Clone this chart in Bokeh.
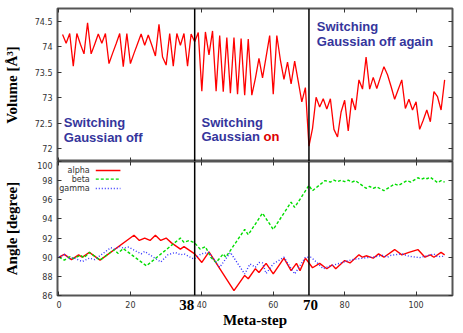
import math
from bokeh.plotting import figure
from bokeh.layouts import column
from bokeh.models import (Range1d, LinearAxis, Span, Label, Arrow, FixedTicker,
                          CustomJSTickFormatter)
from bokeh.embed import file_html
from bokeh.resources import INLINE

# ---------------- data ----------------
vol_step = list(range(1, 109))
volume = [
    74.24, 74.07, 74.26, 73.62, 74.26, 74.05, 73.86, 74.47, 73.86, 74.05,
    74.25, 74.07, 74.26, 73.67, 73.87, 74.06, 74.26, 73.61, 74.26, 73.67,
    73.87, 74.06, 74.25, 74.03, 74.23, 74.03, 73.82, 74.44, 73.80, 73.64,
    74.26, 73.62, 74.26, 74.03, 74.26, 73.62, 74.25, 74.10, 74.28, 73.13,
    74.29, 73.84, 74.31, 73.13, 74.22, 73.12, 74.18, 73.09, 74.18, 73.07,
    74.16, 73.05, 74.15, 73.05, 73.38, 73.77, 73.39, 73.80, 74.22, 73.07,
    74.22, 73.74, 73.36, 73.70, 73.27, 73.72, 73.32, 72.92, 73.20, 72.05,
    72.40, 73.01, 72.82, 72.98, 72.78, 72.98, 72.38, 72.23, 72.72, 72.95,
    72.35, 72.99, 72.76, 73.35, 73.17, 73.80, 73.17, 73.40, 73.18, 73.40,
    73.61, 73.45, 73.22, 72.97, 73.16, 73.35, 72.79, 72.97, 72.76, 72.92,
    72.38, 72.56, 72.76, 72.53, 73.12, 73.02, 72.76, 73.35,
]

alpha_step = [0, 1.5, 3.5, 5.5, 6.5, 8.5, 11.5, 21, 22.5, 24, 25.5, 27, 28.5, 30,
              31.5, 34, 35, 38, 40, 42, 49, 52, 53, 55, 56, 58, 60, 63, 65, 66.5,
              67.5, 69, 71, 73, 75, 76.5, 77.5, 80, 81.5, 84, 85, 86, 88, 89.5,
              91, 94, 96, 98, 100.5, 102.5, 104, 105, 107, 108]
alpha_deg = [90.0, 90.3, 89.75, 90.25, 90.0, 90.5, 89.7, 92.3, 91.75, 92.0, 91.75,
             92.3, 91.75, 92.0, 91.5, 90.85, 91.1, 90.35, 89.45, 90.55, 86.5, 88.1,
             87.75, 88.8, 88.4, 89.35, 88.25, 89.9, 88.6, 89.35, 88.6, 89.9, 88.9,
             89.35, 88.8, 89.2, 88.8, 89.65, 89.4, 90.25, 90.0, 90.15, 89.9, 90.35,
             90.0, 90.8, 90.25, 90.5, 90.8, 90.0, 90.25, 90.0, 90.5, 90.25]

beta_step = [0, 1.5, 3, 4, 6, 7, 8.5, 11.5, 15.5, 16.5, 18, 24.5, 34, 35, 36.5, 38,
             39.5, 41, 42.5, 44, 46, 46.7, 52, 53, 57, 60, 65, 66, 70, 71, 74.5,
             76, 77, 78, 79, 80, 81, 82, 83, 86, 87, 88, 89, 91, 94, 95, 97.5,
             98.5, 100.5, 101.5, 102.5, 103, 104, 106, 107, 108]
beta_deg = [90.0, 89.7, 90.05, 89.85, 90.2, 89.95, 90.5, 89.7, 90.8, 90.4, 90.9,
            89.1, 92.0, 91.55, 91.75, 91.5, 90.85, 91.1, 90.0, 89.45, 90.35, 90.0,
            92.9, 92.35, 94.6, 92.9, 95.75, 95.2, 97.5, 96.95, 98.0, 97.85, 98.05,
            97.9, 98.05, 97.9, 98.05, 97.85, 98.0, 97.2, 97.4, 97.2, 97.35, 96.95,
            97.65, 97.5, 98.0, 97.85, 98.3, 98.15, 98.3, 98.2, 98.35, 97.8, 98.0,
            97.85]

gamma_step = [0, 1.5, 3, 4, 6.5, 8.5, 10, 14.5, 15.5, 17, 18, 19.5, 23, 24, 28.5,
              30.5, 32.5, 34, 35, 37.8, 39.8, 42, 45, 48, 52, 53.5, 55, 56, 57, 58,
              60, 63, 66, 69, 70.5, 71.5, 74, 76, 78, 81, 83, 86, 88, 90.5, 92, 93,
              96, 98, 101, 103, 105, 106, 108]
gamma_deg = [90.0, 90.3, 89.85, 89.95, 89.55, 89.9, 89.75, 91.0, 90.85, 91.1, 90.95,
             91.05, 90.35, 90.6, 89.5, 90.25, 90.5, 90.25, 90.35, 89.8, 90.35, 90.5,
             88.95, 90.5, 88.25, 89.3, 88.95, 89.45, 89.4, 88.3, 89.3, 90.0, 88.25,
             90.0, 90.0, 89.7, 88.8, 89.1, 89.3, 89.65, 89.8, 89.95, 90.0, 90.2,
             90.0, 90.2, 90.35, 90.1, 89.95, 90.15, 90.35, 90.05, 90.1]

switch_steps = [38, 70]
switch_labels = ["38", "70"]
x_ticks = [0, 20, 40, 60, 80, 100]
vol_ticks = [72, 72.5, 73, 73.5, 74, 74.5]
ang_ticks = [86, 88, 90, 92, 94, 96, 98, 100]
legend_names = ["alpha", "beta", "gamma"]

# ---------------- style ----------------
W = 461
FRAME = "#555555"
TICKC = "#333333"
TICKFONT = "DejaVu Sans"
SERIF = "Liberation Serif"
SANS = "Liberation Sans"
BLUE_TXT = "#35359c"
RED = "#ff0000"
GREEN = "#00dd00"
BLUE = "#3333ff"

fmt = CustomJSTickFormatter(code="return tick.toString();")
blank = CustomJSTickFormatter(code="return '';")


def style_axis(ax, ticks, show_labels):
    ax.ticker = FixedTicker(ticks=ticks)
    ax.major_tick_in = 4
    ax.major_tick_out = 0
    ax.minor_tick_line_color = None
    ax.axis_line_color = None
    ax.major_tick_line_color = TICKC
    ax.major_tick_line_width = 1
    if show_labels:
        ax.formatter = fmt
        ax.major_label_text_font = TICKFONT
        ax.major_label_text_font_size = "8px"
        ax.major_label_text_color = TICKC
        ax.major_label_standoff = 5
    else:
        ax.formatter = blank
        ax.major_label_text_font_size = "0px"
        ax.major_label_standoff = 0


def base_fig(h, yr, mb_top, mb_bottom):
    p = figure(width=W, height=h, x_range=Range1d(-0.42, 110.2), y_range=yr,
               output_backend="svg", toolbar_location=None,
               min_border_left=56, min_border_right=9,
               min_border_top=mb_top, min_border_bottom=mb_bottom)
    p.xgrid.visible = False
    p.ygrid.visible = False
    p.outline_line_color = FRAME
    p.outline_line_width = 2
    p.background_fill_color = "white"
    p.border_fill_color = "white"
    return p


def axis_title(ax, text, standoff):
    ax.axis_label = text
    ax.axis_label_text_font = SERIF
    ax.axis_label_text_font_style = "bold"
    ax.axis_label_text_font_size = "15px"
    ax.axis_label_text_color = "black"
    ax.axis_label_standoff = standoff


# ---------------- top panel ----------------
p1 = base_fig(161, Range1d(71.75, 74.75), 8, 0)
style_axis(p1.xaxis[0], x_ticks, False)
style_axis(p1.yaxis[0], vol_ticks, True)
axis_title(p1.yaxis[0], "Volume [Å³]", 12)
for side, ticks in (("above", x_ticks), ("right", vol_ticks)):
    ax = LinearAxis()
    style_axis(ax, ticks, False)
    p1.add_layout(ax, side)

p1.line(vol_step, volume, line_color=RED, line_width=1.3)

for s in switch_steps:
    p1.add_layout(Span(location=s, dimension="height", line_color="black", line_width=1.5))


def blue_text(p, x, y, t, **kw):
    p.add_layout(Label(x=x, y=y, text=t, text_font=SANS, text_font_style="bold",
                       text_font_size="13px", text_color=BLUE_TXT,
                       text_align="left", text_baseline="alphabetic", **kw))


blue_text(p1, 1.34, 72.507, "Switching")
blue_text(p1, 1.34, 72.216, "Gaussian off")
blue_text(p1, 39.9, 72.515, "Switching")
blue_text(p1, 39.9, 72.232, "Gaussian")
p1.add_layout(Label(x=39.9, y=72.232, x_offset=62, text="on", text_font=SANS,
                    text_font_style="bold", text_font_size="13px", text_color="#dd0000",
                    text_align="left", text_baseline="alphabetic"))
blue_text(p1, 72.2, 74.393, "Switching")
blue_text(p1, 72.2, 74.098, "Gaussian off again")

# ---------------- bottom panel ----------------
p2 = base_fig(172, Range1d(86, 100), 0, 38)
style_axis(p2.xaxis[0], x_ticks, True)
style_axis(p2.yaxis[0], ang_ticks, True)
axis_title(p2.yaxis[0], "Angle [degree]", 14)
for side, ticks in (("above", x_ticks), ("right", ang_ticks)):
    ax = LinearAxis()
    style_axis(ax, ticks, False)
    p2.add_layout(ax, side)

# second bottom axis carrying the bold switch-step labels and the axis title
label_shift = [-2.2, 0.4]   # label placement nudges (data units)
sw_axis = LinearAxis(
    ticker=FixedTicker(ticks=[s + d for s, d in zip(switch_steps, label_shift)]),
    formatter=CustomJSTickFormatter(
        args=dict(lab=switch_labels),
        code="return tick < 55 ? lab[0] : lab[1];"),
    major_tick_line_color=None, minor_tick_line_color=None, axis_line_color=None,
    major_tick_in=0, major_tick_out=0,
    major_label_text_font=SERIF, major_label_text_font_style="bold",
    major_label_text_font_size="15px", major_label_text_color="black",
    major_label_standoff=-11)
axis_title(sw_axis, "Meta-step", -1)
p2.add_layout(sw_axis, "below")

p2.line(alpha_step, alpha_deg, line_color=RED, line_width=1.4)
p2.line(beta_step, beta_deg, line_color=GREEN, line_width=1.4, line_dash="3 2")
p2.line(gamma_step, gamma_deg, line_color=BLUE, line_width=1.4, line_dash="1 2")

for s in switch_steps:
    p2.add_layout(Span(location=s, dimension="height", line_color="black", line_width=1.5))

# legend (text right-aligned, sample line to the right)
leg_colors = [RED, GREEN, BLUE]
leg_dash = ["solid", "3 2", "1 2"]
leg_y = [99.06, 98.16, 97.18]
for name, c, d, yy in zip(legend_names, leg_colors, leg_dash, leg_y):
    p2.add_layout(Label(x=8.6, y=yy, text=name, text_font=TICKFONT, text_font_size="8px",
                        text_color=TICKC, text_align="right", text_baseline="middle"))
    p2.add_layout(Arrow(end=None, x_start=10.3, y_start=yy, x_end=17.2, y_end=yy,
                        line_color=c, line_width=1.4, line_dash=d))

layout = column(p1, p2, spacing=0)
open("out.html", "w").write(file_html(layout, INLINE))
